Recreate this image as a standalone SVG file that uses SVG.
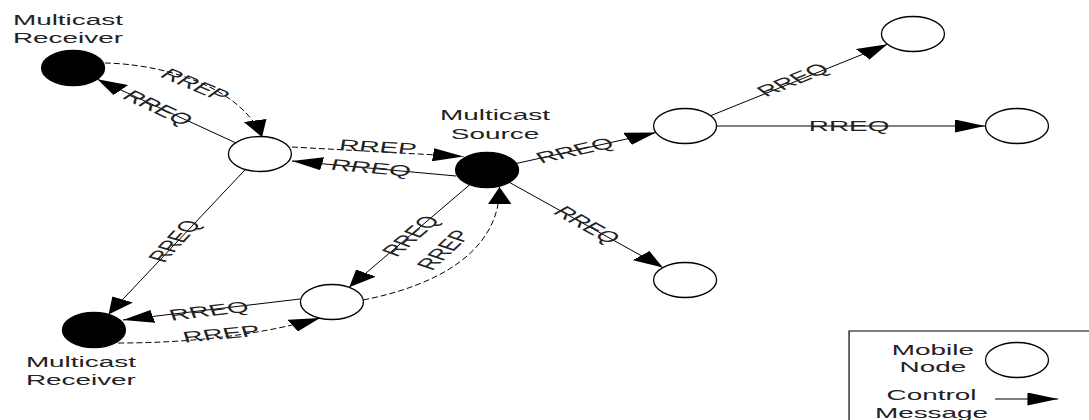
<svg xmlns="http://www.w3.org/2000/svg" width="1089" height="420" viewBox="0 0 1089 420">
  <defs>
    <marker id="arrow" markerUnits="userSpaceOnUse" markerWidth="17" markerHeight="13" refX="17" refY="6.5" orient="auto" viewBox="0 0 17 13">
      <path d="M0,0 L17,6.5 L0,13 z" fill="#000"/>
    </marker>
  </defs>
  <style>
    .node{stroke:#000;stroke-width:1.3;vector-effect:non-scaling-stroke}
    .open{fill:#fff}
    .filled{fill:#000}
    .req{fill:none;stroke:#000;stroke-width:1;vector-effect:non-scaling-stroke;marker-end:url(#arrow)}
    .rep{fill:none;stroke:#000;stroke-width:1;stroke-dasharray:6 3;vector-effect:non-scaling-stroke;marker-end:url(#arrow)}
    .plain{fill:none;stroke:#000;stroke-width:1.2;vector-effect:non-scaling-stroke}
    text{font-family:"Liberation Sans",Arial,sans-serif;font-size:15.5px;fill:#222}
    .lbl{text-anchor:middle;dominant-baseline:central}
    .mid{text-anchor:middle}
  </style>
  <rect width="1089" height="420" fill="#fff"/>

  <!-- whole drawing is laid out in a narrow frame and widened 1.8x -->
  <g transform="scale(1.8,1)">
    <g id="connectors">
      <!-- RREQ flood -->
      <path class="req" d="M130.9,142.8 L54.1,79.2"/>
      <path class="req" d="M253.3,176 L162.2,161"/>
      <path class="req" d="M286.8,163.5 L364.4,132.5"/>
      <path class="req" d="M394.8,115.7 L493,44.3"/>
      <path class="req" d="M398.1,126 L547.5,126"/>
      <path class="req" d="M283,182.4 L368.2,267.6"/>
      <path class="req" d="M261,184.7 L194,287.3"/>
      <path class="req" d="M136.3,169.5 L60.3,314.5"/>
      <path class="req" d="M166.7,299 L68.3,320"/>
      <!-- RREP replies -->
      <path class="rep" d="M58.3,63 C88.9,64 133.3,85 145.6,137"/>
      <path class="rep" d="M162.2,147 L257.5,156.5"/>
      <path class="rep" d="M201.7,300 C244.4,285 277.8,250 277.5,187"/>
      <path class="rep" d="M65.6,343 Q127.8,343 177.8,318"/>

      <!-- message labels -->
      <text class="lbl" transform="translate(87.8,108) rotate(39.6)">RREQ</text>
      <text class="lbl" transform="translate(108.5,85) rotate(37)">RREP</text>
      <text class="lbl" transform="translate(210,147) rotate(5.4)">RREP</text>
      <text class="lbl" transform="translate(206.1,168) rotate(9.4)">RREQ</text>
      <text class="lbl" transform="translate(319.4,150.5) rotate(-21.8)">RREQ</text>
      <text class="lbl" transform="translate(440.6,80) rotate(-36)">RREQ</text>
      <text class="lbl" transform="translate(471.7,126)">RREQ</text>
      <text class="lbl" transform="translate(326.1,225) rotate(45)">RREQ</text>
      <text class="lbl" transform="translate(228.3,236) rotate(-56.9)">RREQ</text>
      <text class="lbl" transform="translate(246.7,250) rotate(-59)">RREP</text>
      <text class="lbl" transform="translate(116.1,311) rotate(-12)">RREQ</text>
      <text class="lbl" transform="translate(123,334) rotate(-10)">RREP</text>
      <text class="lbl" transform="translate(97,241) rotate(-62.4)">RREQ</text>
    </g>

    <g id="receiver-top">
      <circle class="node filled" cx="40.6" cy="68" r="17.5"/>
      <text x="7.2" y="25">Multicast</text>
      <text x="7.2" y="43">Receiver</text>
    </g>
    <g id="node-a"><circle class="node open" cx="144.4" cy="154" r="17.5"/></g>
    <g id="source">
      <circle class="node filled" cx="270.6" cy="170" r="17.5"/>
      <text class="mid" x="275" y="120">Multicast</text>
      <text class="mid" x="275" y="139">Source</text>
    </g>
    <g id="node-b"><circle class="node open" cx="380.6" cy="126" r="17.5"/></g>
    <g id="node-top-right"><circle class="node open" cx="507.2" cy="34" r="17.5"/></g>
    <g id="node-right"><circle class="node open" cx="565" cy="126" r="17.5"/></g>
    <g id="node-bottom-right"><circle class="node open" cx="380.6" cy="280" r="17.5"/></g>
    <g id="node-c"><circle class="node open" cx="184.4" cy="302" r="17.5"/></g>
    <g id="receiver-bottom">
      <circle class="node filled" cx="52.2" cy="330" r="17.5"/>
      <text x="14.4" y="367">Multicast</text>
      <text x="14.4" y="385">Receiver</text>
    </g>

    <g id="legend">
      <rect class="plain" x="471.7" y="331" width="200" height="200"/>
      <text class="mid" x="518.3" y="355">Mobile</text>
      <text class="mid" x="518.3" y="372">Node</text>
      <circle class="node open" cx="565" cy="360" r="17.5"/>
      <text class="mid" x="517.5" y="400">Control</text>
      <text class="mid" x="517.5" y="418">Message</text>
      <path class="req" d="M552.8,399 L587.8,399"/>
    </g>
  </g>
</svg>
